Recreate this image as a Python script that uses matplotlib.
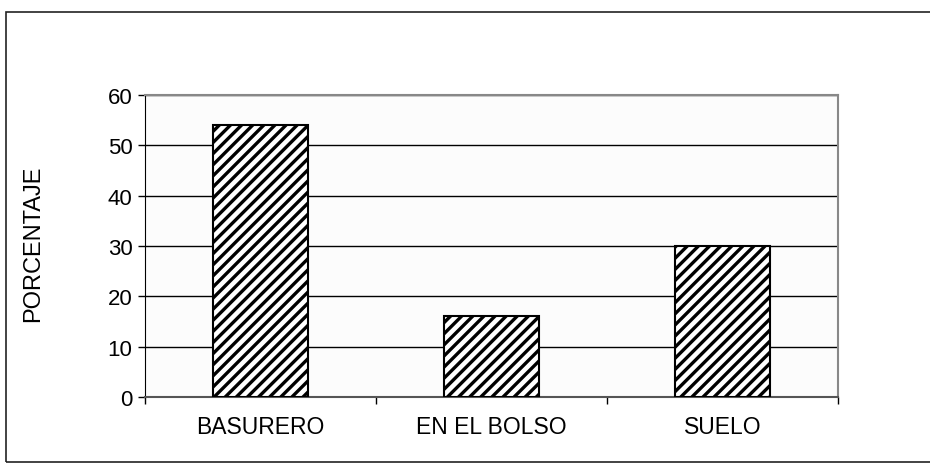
import matplotlib
matplotlib.use("Agg")
import matplotlib.pyplot as plt
from matplotlib.patches import Rectangle

# Datos
categorias = ['BASURERO', 'EN EL BOLSO', 'SUELO']
porcentajes = [54, 16, 30]

plt.rcParams['font.family'] = ['Liberation Sans', 'DejaVu Sans']
plt.rcParams['hatch.linewidth'] = 2.4

W, H = 930, 464
fig = plt.figure(figsize=(W / 100, H / 100), dpi=100)

# Marco exterior del gráfico
fig.patches.append(Rectangle((6 / W, 1 - 463 / H), (932 - 6) / W, (463 - 13) / H,
                             transform=fig.transFigure, fill=False,
                             edgecolor='#222222', linewidth=1.2))

# Área de trazado
left, right, top, bottom = 145, 838, 96, 398
ax = fig.add_axes([left / W, 1 - bottom / H, (right - left) / W, (bottom - top) / H])
ax.set_facecolor('#fcfcfc')

x = range(len(categorias))
ax.bar(x, porcentajes, width=0.41, color='white', edgecolor='black',
       linewidth=1.5, hatch='///', zorder=3)

ax.set_xlim(-0.5, len(categorias) - 0.5)
ax.set_ylim(0, 60)
ax.set_yticks(range(0, 61, 10))
ax.yaxis.grid(True, color='black', linewidth=1.0, zorder=0)
ax.set_axisbelow(True)

ax.set_xticks(list(x))
ax.set_xticklabels(categorias, fontsize=16.5)
ax.tick_params(axis='x', length=0, pad=13)
ax.set_xticks([-0.5, 0.5, 1.5, 2.5], minor=True)
ax.tick_params(axis='x', which='minor', length=5, width=1, color='black')
ax.tick_params(axis='y', length=5, width=1, labelsize=16, pad=4)

for lado in ['top', 'right']:
    ax.spines[lado].set_color('#888888')
    ax.spines[lado].set_linewidth(1.5)
ax.spines['left'].set_color('black')
ax.spines['bottom'].set_color('#555555')
ax.spines['bottom'].set_linewidth(1.5)

fig.text(33 / W, 1 - 244 / H, 'PORCENTAJE', rotation=90, fontsize=17,
         ha='center', va='center')

fig.savefig('out.png', dpi=100)
